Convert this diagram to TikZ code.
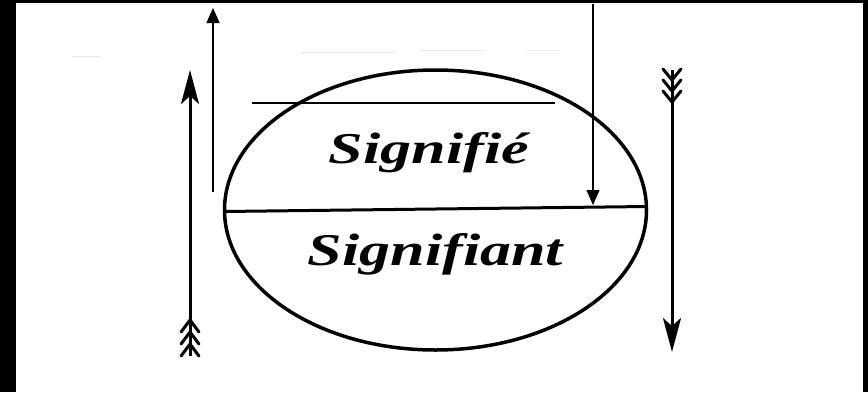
\documentclass[tikz,border=0pt]{standalone}
\usepackage{fontspec}
\setmainfont{Liberation Serif}
\usepackage{graphicx}
\usetikzlibrary{arrows.meta,shapes.geometric,calc}
\begin{document}
\begin{tikzpicture}[x=1pt,y=-1pt,
  thinarrow/.style={line width=1.1pt,-{Triangle[width=13pt,length=15pt]}},
  thickarrow/.style={line width=3pt,-{Stealth[width=18pt,length=34pt,inset=8pt]}},
  fletch/.style={line width=3pt,line cap=round,line join=round},
  wordstyle/.style={inner sep=0pt,anchor=base},
  blackstrip/.style={fill=black},
  smudge/.style={draw=black!9,line width=0.8pt}]
\useasboundingbox (0,0) rectangle (868,392);
\fill[white] (0,0) rectangle (868,392);
\fill[blackstrip] (0,0) rectangle (16,392);
\fill[blackstrip] (0,0) rectangle (868,3);
\fill[blackstrip] (863,0) rectangle (868,392);
% faint scan marks
\draw[smudge] (72,56) -- (100,56);
\draw[smudge] (300,52) -- (395,52);
\draw[smudge] (420,50) -- (485,50);
\draw[draw=black!5,line width=0.8pt] (525,50) -- (560,50);
% ellipse
\node[draw,ellipse,line width=3.5pt,minimum width=422pt,minimum height=280pt,inner sep=0pt] (ell) at (435.5,210) {};
\draw[line width=3pt] ($(ell.west)+(1,1.5)$) -- ($(ell.east)+(-1,-3.5)$);
% texts
\node[wordstyle] (sigfie) at (429,163) {\resizebox{200pt}{31pt}{\bfseries\itshape Signifié}};
\node[wordstyle] (sigfiant) at (435.5,265) {\resizebox{255pt}{32pt}{\bfseries\itshape Signifiant}};
% thin line
\coordinate (h0) at (252,103);
\coordinate (h1) at (555,103);
\draw[line width=1.2pt] (h0) -- (h1);
% thin arrows
\coordinate (ta0) at (213,192);
\coordinate (ta1) at (213,8);
\draw[thinarrow] (ta0) -- (ta1);
\coordinate (tb0) at (593,4);
\coordinate (tb1) at (593,205);
\draw[thinarrow] (tb0) -- (tb1);
% thick left arrow (up)
\coordinate (la0) at (190,356);
\coordinate (la1) at (190,70);
\draw[thickarrow] (la0) -- (la1);
\foreach \y in {320,332,344} \draw[fletch] (181,\y+12) -- (190,\y) -- (199,\y+12);
% thick right arrow (down)
\coordinate (ra0) at (672,70);
\coordinate (ra1) at (672,352);
\draw[thickarrow] (ra0) -- (ra1);
\foreach \y in {80,91,102} \draw[fletch] (663,\y-11) -- (672,\y) -- (681,\y-11);
\end{tikzpicture}
\end{document}
